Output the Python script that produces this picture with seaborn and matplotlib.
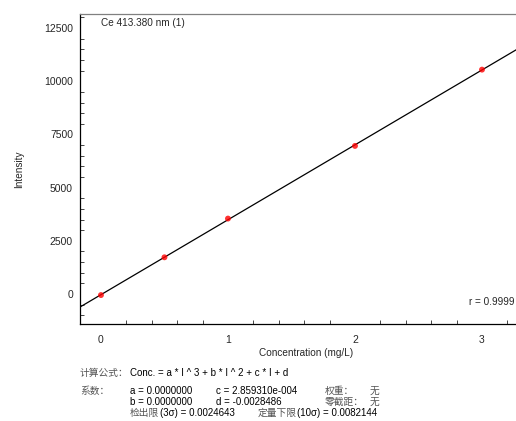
import matplotlib
matplotlib.use("Agg")
import matplotlib.pyplot as plt
import seaborn as sns
import pandas as pd
from matplotlib.ticker import MultipleLocator

# calibration data
conc = [0, 0.5, 1, 2, 3]
intensity = [-50, 1725, 3545, 6960, 10545]

title = "Ce 413.380 nm (1)"
r_text = "r = 0.9999"

df = pd.DataFrame({"conc": conc, "intensity": intensity})

sns.set_style("white")
plt.rcParams["font.family"] = ["Arial", "Liberation Sans", "DejaVu Sans"]
cjk = ["Noto Sans CJK SC", "DejaVu Sans"]

fig = plt.figure(figsize=(5.16, 4.21), dpi=100)
ax = fig.add_axes([80 / 516, 1 - 324 / 421, 452.8 / 516, 310 / 421])
ax.set_xlim(-0.165, 3.4)
ax.set_ylim(-1410, 13160)

sns.regplot(data=df, x="conc", y="intensity", ax=ax, ci=None, truncate=False,
            scatter_kws=dict(color="red", s=18, zorder=3, edgecolor="none"),
            line_kws=dict(color="black", lw=0.9))

ax.set_xlabel("Concentration (mg/L)", fontsize=7.2, labelpad=2)
ax.set_ylabel("Intensity", fontsize=7.2, labelpad=14)
ax.set_xticks([0, 1, 2, 3])
ax.set_yticks([0, 2500, 5000, 7500, 10000, 12500])
ax.xaxis.set_minor_locator(MultipleLocator(0.2))
ax.yaxis.set_minor_locator(MultipleLocator(500))
ax.tick_params(axis="x", which="major", direction="in", length=5, width=0.8, labelsize=7.5, pad=8)
ax.tick_params(axis="x", which="minor", direction="in", length=3, width=0.6, bottom=True)
ax.tick_params(axis="y", which="major", direction="inout", length=6, width=0.8, labelsize=7.5, pad=2)
ax.tick_params(axis="y", which="minor", direction="in", length=3, width=0.6, left=True)

for s in ["left", "bottom"]:
    ax.spines[s].set_color("black")
    ax.spines[s].set_linewidth(0.9)
ax.spines["top"].set_color("#808080")
ax.spines["top"].set_linewidth(0.9)
ax.spines["right"].set_visible(False)

ax.text(0.0, 12950, title, fontsize=7.2, va="top", ha="left")
ax.text(2.9, -390, r_text, fontsize=7.2, va="center", ha="left")

# formula block under the chart
fs = 7
gray = "#555555"
def put(x, y, s, fam=None, color="black"):
    fig.text(x / 516, 1 - y / 421, s, fontsize=fs, va="center", ha="left",
             color=color, family=fam if fam else plt.rcParams["font.family"])

put(80, 373, "计算公式：", cjk, gray)
put(130, 373, "Conc. = a * I ^ 3 + b * I ^ 2 + c * I + d")
put(80, 391, "系数：", cjk, gray)
put(130, 391, "a = 0.0000000")
put(216, 391, "c = 2.859310e-004")
put(325, 391, "权重：", cjk, gray)
put(370, 391, "无", cjk, gray)
put(130, 402, "b = 0.0000000")
put(216, 402, "d = -0.0028486")
put(325, 402, "零截距：", cjk, gray)
put(370, 402, "无", cjk, gray)
put(130, 413, "检出限", cjk, gray)
put(160, 413, "(3σ) = 0.0024643")
put(258, 413, "定量下限", cjk, gray)
put(297, 413, "(10σ) = 0.0082144")

fig.savefig("out.png", dpi=100)
